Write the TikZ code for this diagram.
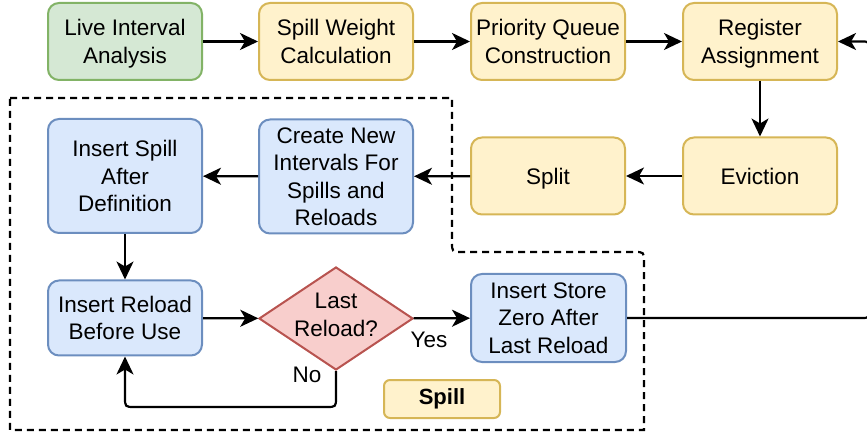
\documentclass[tikz,border=0pt]{standalone}
\usepackage{fontspec}
\setmainfont{Liberation Sans}
\usetikzlibrary{arrows.meta,shapes.geometric}
\definecolor{gfill}{HTML}{D5E8D4}\definecolor{gline}{HTML}{82B366}
\definecolor{yfill}{HTML}{FFF2CC}\definecolor{yline}{HTML}{D6B656}
\definecolor{bfill}{HTML}{DAE8FC}\definecolor{bline}{HTML}{6C8EBF}
\definecolor{rfill}{HTML}{F8CECC}\definecolor{rline}{HTML}{B85450}
\tikzset{
  box/.style={rectangle,rounded corners=11pt,line width=2pt,minimum width=154pt,inner sep=0pt,align=center,text depth=0pt},
  greenbox/.style={box,draw=gline,fill=gfill},
  yellowbox/.style={box,draw=yline,fill=yfill},
  bluebox/.style={box,draw=bline,fill=bfill},
  conn/.style={line width=2.2pt,-{Stealth[length=18pt,width=17pt,inset=5pt]}},
  lbl/.style={inner sep=0pt},
}
\begin{document}
\begin{tikzpicture}[x=1pt,y=-1pt,font=\fontsize{22.5}{27.5}\selectfont]
\useasboundingbox (0,0) rectangle (867,435);
% dashed spill region
\draw[line width=2.2pt,dash pattern=on 7pt off 5pt]
  (10,98) -- (452,98) -- (452,242) .. controls (452,252) .. (462,252)
  -- (634,252) .. controls (644,252) .. (644,262) -- (644,430) -- (10,430) -- cycle;
% top row
\node[greenbox,minimum height=77pt] (live) at (125,41.5) {Live Interval\\Analysis};
\node[yellowbox,minimum height=77pt] (weight) at (336,41.5) {Spill Weight\\Calculation};
\node[yellowbox,minimum height=77pt] (pq) at (548,41.5) {Priority Queue\\Construction};
\node[yellowbox,minimum height=77pt] (reg) at (760,41.5) {Register\\Assignment};
% middle row
\node[yellowbox,minimum height=77pt] (evict) at (760,176) {Eviction};
\node[yellowbox,minimum height=77pt] (split) at (548,176) {Split};
\node[bluebox,minimum height=114pt] (create) at (336,176.5) {Create New\\Intervals For\\Spills and\\Reloads};
\node[bluebox,minimum height=114pt] (spillins) at (125,176) {Insert Spill\\After\\Definition};
% bottom row
\node[bluebox,minimum height=75pt] (reload) at (125,318) {Insert Reload\\Before Use};
\node[diamond,draw=rline,fill=rfill,line width=2pt,minimum width=154pt,minimum height=103pt,inner sep=0pt] (dec) at (336,318.5) {};
\node[lbl,align=center,text depth=0pt] (dectext) at (336,315) {Last\\Reload?};
\node[bluebox,minimum width=155pt,minimum height=88pt] (store) at (548.5,318) {Insert Store\\Zero After\\Last Reload};
\node[rectangle,rounded corners=6pt,draw=yline,fill=yfill,line width=2pt,minimum width=116pt,minimum height=38pt,inner sep=0pt,font=\fontsize{22}{26}\selectfont\bfseries] (spilllbl) at (442,399) {Spill};
% connectors
\draw[conn] (live) -- (weight);
\draw[conn] (weight) -- (pq);
\draw[conn] (pq) -- (reg);
\draw[conn] (reg) -- (evict);
\draw[conn] (evict) -- (split);
\draw[conn] (split) -- (create);
\draw[conn] (create) -- (spillins);
\draw[conn] (spillins) -- (reload);
\draw[conn] (reload) -- (dec);
\draw[conn] (dec) -- (store);
\node[lbl] (yes) at (429,340) {Yes};
\coordinate (nocorner) at (336,407);
\draw[conn] (dec.south) -- (336,397) .. controls (nocorner) .. (326,407) -- (135,407) .. controls (125,407) .. (125,397) -- (reload.south);
\node[lbl] (no) at (307,375) {No};
\draw[conn] (store.east) -- (861,318) .. controls (869,318) .. (869,310) -- (869,49.5) .. controls (869,41.5) .. (861,41.5) -- (reg.east);
\end{tikzpicture}
\end{document}
